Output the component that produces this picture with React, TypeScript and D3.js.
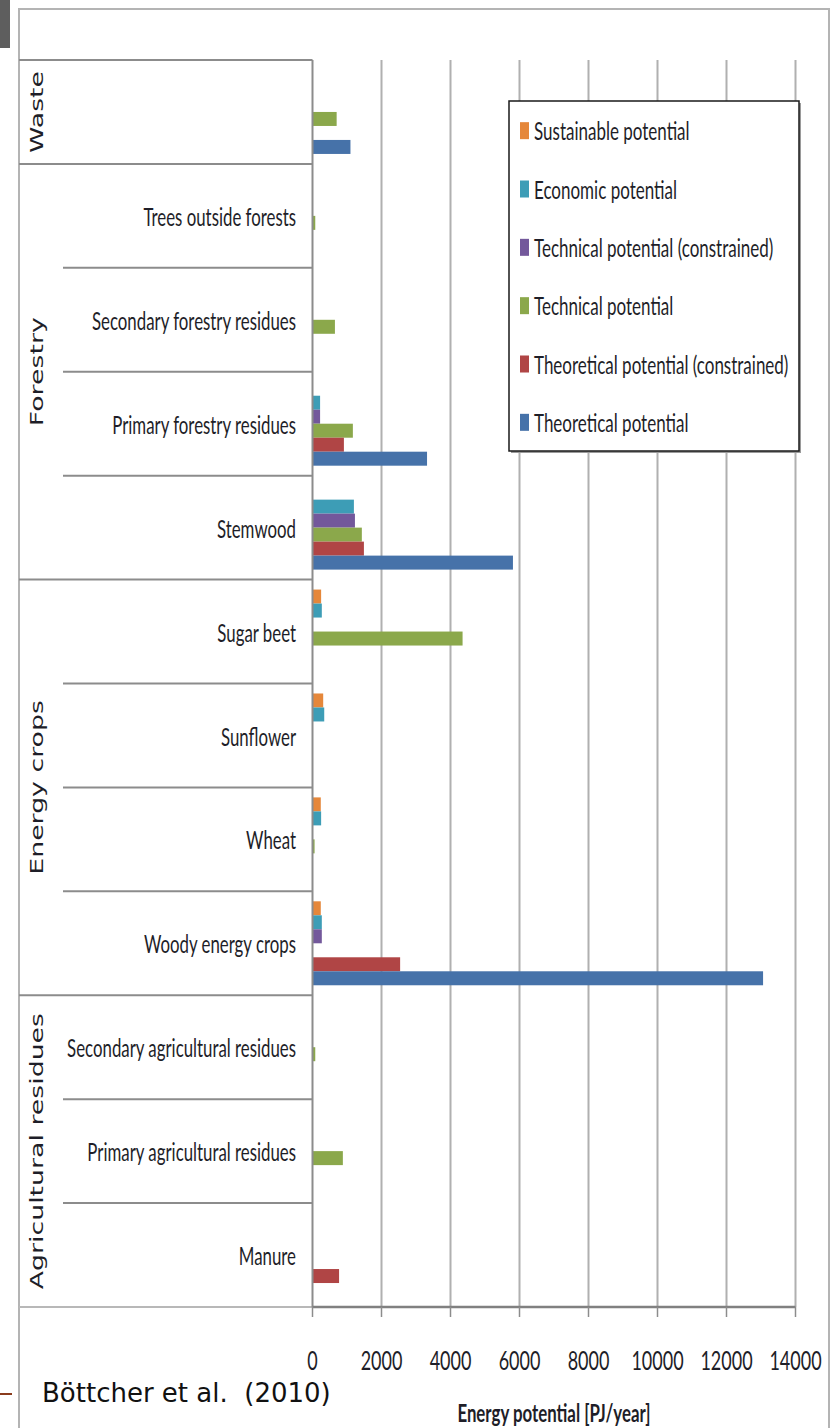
import React from "react";
import * as d3 from "d3";

const categories = [
  "Waste",
  "Trees outside forests",
  "Secondary forestry residues",
  "Primary forestry residues",
  "Stemwood",
  "Sugar beet",
  "Sunflower",
  "Wheat",
  "Woody energy crops",
  "Secondary agricultural residues",
  "Primary agricultural residues",
  "Manure",
];

// category labels shown (Waste row has no sub-label)
const categoryLabels = [
  "",
  "Trees outside forests",
  "Secondary forestry residues",
  "Primary forestry residues",
  "Stemwood",
  "Sugar beet",
  "Sunflower",
  "Wheat",
  "Woody energy crops",
  "Secondary agricultural residues",
  "Primary agricultural residues",
  "Manure",
];

const groupNames = ["Waste", "Forestry", "Energy crops", "Agricultural residues"];
const groupSizes = [1, 4, 4, 3];

const seriesNames = [
  "Sustainable potential",
  "Economic potential",
  "Technical potential (constrained)",
  "Technical potential",
  "Theoretical potential (constrained)",
  "Theoretical potential",
];
const seriesColors = ["#E5873A", "#3D9DB6", "#73589B", "#8BA84B", "#B04545", "#4672A9"];

const sustainable = [0, 0, 0, 0, 0, 250, 310, 240, 240, 0, 0, 0];
const economic = [0, 0, 0, 220, 1200, 270, 340, 250, 270, 0, 0, 0];
const technicalConstrained = [0, 0, 0, 220, 1230, 0, 0, 0, 270, 0, 0, 0];
const technical = [700, 80, 650, 1170, 1430, 4350, 0, 60, 0, 80, 880, 0];
const theoreticalConstrained = [0, 0, 0, 910, 1490, 0, 0, 0, 2540, 0, 0, 770];
const theoretical = [1100, 0, 0, 3320, 5810, 0, 0, 0, 13060, 0, 0, 0];

const seriesValues = [
  sustainable,
  economic,
  technicalConstrained,
  technical,
  theoreticalConstrained,
  theoretical,
];

const xTicks = [0, 2000, 4000, 6000, 8000, 10000, 12000, 14000];
const xTitle = "Energy potential [PJ/year]";
const sourceText = "Böttcher et al.  (2010)";

const W = 832;
const H = 1428;
const PLOT_TOP = 60;
const PLOT_BOTTOM = 1307;
const X0 = 312.5;
const X1 = 795.5;
const LEFT = 19;

const COND = "Lato, 'Open Sans', sans-serif";
const TXT = "#1e1e28";

function SText(props: any) {
  const { x, y, sx = 1, sy = 1.52, anchor = "start", size = 17, weight = 400, family = COND, children } = props;
  return (
    <text
      transform={`translate(${x},${y}) scale(${sx},${sy})`}
      textAnchor={anchor}
      dominantBaseline="central"
      fontSize={size}
      fontWeight={weight}
      fontFamily={family}
      fill={TXT}
    >
      {children}
    </text>
  );
}

export default function App() {
  const x = d3.scaleLinear().domain([0, 14000]).range([X0, X1]);
  const y = d3.scaleBand<string>().domain(categories).range([PLOT_TOP, PLOT_BOTTOM]);
  const bw = y.bandwidth();
  const slotPad = bw * 0.096;
  const sub = d3
    .scaleBand<string>()
    .domain(seriesNames)
    .range([slotPad, bw - slotPad]);

  // group boundaries
  const groupStarts: number[] = [];
  let acc = 0;
  groupSizes.forEach((s) => {
    groupStarts.push(acc);
    acc += s;
  });
  const groupTop = (gi: number) => y(categories[groupStarts[gi]])!;
  const groupBottom = (gi: number) => y(categories[groupStarts[gi] + groupSizes[gi] - 1])! + bw;

  const legendX = 509;
  const legendY = 101;
  const legendW = 290;
  const legendH = 350;
  const legendRow = d3
    .scaleBand<string>()
    .domain(seriesNames)
    .range([legendY, legendY + legendH]);

  return (
    <svg
      width={W}
      height={H}
      viewBox={`0 0 ${W} ${H}`}
      style={{ position: "absolute", left: 0, top: 0, background: "#fff" }}
    >
      <rect x={0} y={0} width={W} height={H} fill="#fff" />
      {/* outer frame */}
      <path d={`M${LEFT},${H} V9 H829 V${H}`} fill="none" stroke="#b4b4b4" strokeWidth={2} />
      <rect x={0} y={0} width={10} height={48} fill="#5e5e5e" />
      <line x1={0} x2={12} y1={1394} y2={1394} stroke="#8a3b1c" strokeWidth={2} />

      {/* gridlines */}
      {xTicks.slice(1).map((t) => (
        <line key={"g" + t} x1={x(t)} x2={x(t)} y1={PLOT_TOP} y2={PLOT_BOTTOM} stroke="#b0b0b0" strokeWidth={2} />
      ))}

      {/* bars */}
      {seriesValues.map((vals, si) =>
        vals.map((v, ci) =>
          v > 0 ? (
            <rect
              key={`b${si}-${ci}`}
              x={x(0)}
              y={y(categories[ci])! + sub(seriesNames[si])!}
              width={x(v) - x(0)}
              height={sub.bandwidth()}
              fill={seriesColors[si]}
            />
          ) : null
        )
      )}

      {/* left category box */}
      {groupNames.map((g, gi) => (
        <line key={"gl" + gi} x1={LEFT} x2={X0} y1={groupTop(gi)} y2={groupTop(gi)} stroke="#8c8c8c" strokeWidth={2} />
      ))}
      <line x1={LEFT} x2={X0} y1={PLOT_BOTTOM} y2={PLOT_BOTTOM} stroke="#b8b8b8" strokeWidth={2} />
      {categories.map((c, ci) => {
        const isGroupStart = groupStarts.includes(ci);
        if (isGroupStart) return null;
        return (
          <line key={"sl" + ci} x1={63} x2={X0} y1={y(c)!} y2={y(c)!} stroke="#8c8c8c" strokeWidth={2} />
        );
      })}

      {/* axes */}
      <line x1={X0} x2={X0} y1={PLOT_TOP} y2={PLOT_BOTTOM} stroke="#8c8c8c" strokeWidth={2} />
      <line x1={X0} x2={X1} y1={PLOT_BOTTOM} y2={PLOT_BOTTOM} stroke="#808080" strokeWidth={2.5} />
      {xTicks.map((t) => (
        <line key={"t" + t} x1={x(t)} x2={x(t)} y1={PLOT_BOTTOM} y2={PLOT_BOTTOM + 10} stroke="#8c8c8c" strokeWidth={1.5} />
      ))}
      {xTicks.map((t) => (
        <SText key={"tl" + t} x={x(t)} y={1360} anchor="middle" size={18} sx={1.0} sy={1.45}>
          {String(t)}
        </SText>
      ))}

      {/* category labels */}
      {categoryLabels.map((lab, ci) =>
        lab ? (
          <SText key={"cl" + ci} x={296} y={y(categories[ci])! + bw / 2} anchor="end" size={17} sx={0.99}>
            {lab}
          </SText>
        ) : null
      )}

      {/* group labels */}
      {groupNames.map((g, gi) => (
        <text
          key={"gn" + gi}
          transform={`translate(37,${(groupTop(gi) + groupBottom(gi)) / 2}) rotate(-90) scale(1.53,1)`}
          textAnchor="middle"
          dominantBaseline="central"
          fontSize={17.5}
          fontFamily="'DejaVu Sans', Verdana, sans-serif"
          fill={TXT}
        >
          {g}
        </text>
      ))}

      {/* legend */}
      <rect x={legendX + 2} y={legendY + 2} width={legendW} height={legendH} fill="#9a9a9a" />
      <rect x={legendX} y={legendY} width={legendW} height={legendH} fill="#fff" stroke="#1a1a1a" strokeWidth={1.5} />
      {seriesNames.map((s, si) => {
        const cy = legendRow(s)! + legendRow.bandwidth() / 2;
        return (
          <g key={"lg" + si}>
            <rect x={520} y={cy - 8} width={9} height={17} fill={seriesColors[si]} />
            <SText x={534} y={cy} size={17} sx={1.0}>
              {s}
            </SText>
          </g>
        );
      })}

      {/* titles */}
      <SText x={(X0 + X1) / 2} y={1412} anchor="middle" size={17} weight={700} sx={0.99} sy={1.45}>
        {xTitle}
      </SText>
      <text
        x={42}
        y={1393}
        dominantBaseline="central"
        fontSize={26}
        fontFamily="'DejaVu Sans', Verdana, sans-serif"
        fill="#111"
        style={{ whiteSpace: "pre" }}
      >
        {sourceText}
      </text>
    </svg>
  );
}
